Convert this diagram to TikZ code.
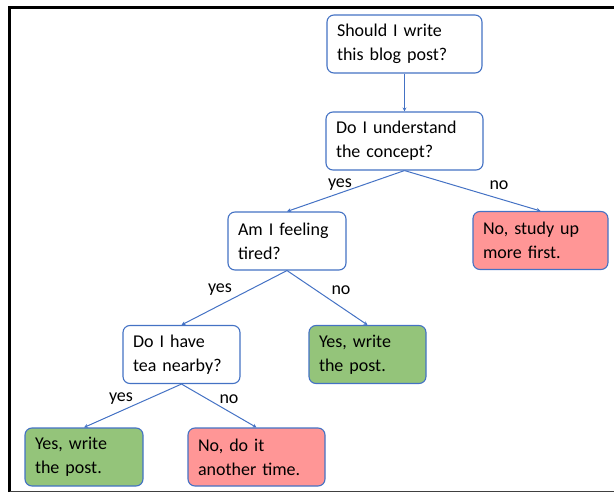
\documentclass[tikz,border=0pt]{standalone}
\usepackage{fontspec}
\setmainfont{Carlito}
\usetikzlibrary{arrows.meta}
\definecolor{boxblue}{RGB}{68,114,196}
\definecolor{yesgreen}{RGB}{148,196,122}
\definecolor{nopink}{RGB}{255,150,150}
\tikzset{
    every node/.style={font=\fontsize{18}{24}\selectfont},
    question/.style={draw=boxblue, line width=1.1pt, rounded corners=7pt,
        fill=white, text width=#1, inner xsep=10pt, align=left,
        minimum height=58pt},
    answeryes/.style={question=#1, fill=yesgreen},
    answerno/.style={question=#1, fill=nopink},
    branch/.style={draw=boxblue, line width=1pt,
        -{Stealth[length=4pt, width=4pt]}},
}
\begin{document}
\begin{tikzpicture}[x=1pt, y=-1pt]
                \useasboundingbox (0, 0) rectangle (614, 493);
                \draw[line width=2.5pt] (9.5, 492) -- (9.5, 7.5) -- (614, 7.5);
                \draw[darkgray, line width=1.5pt] (9.5, 491.5) -- (614, 491.5);
                % questions
                \node[question=135pt] (blog) at (404.5, 44)
                    {Should I write\\ this blog post?};
                \node[question=137pt] (concept) at (404.5, 141)
                    {Do I understand\\ the concept?};
                \node[question=98pt] (tired) at (287, 241)
                    {Am I feeling\\ tired?};
                \node[question=97pt] (tea) at (181.5, 354.5)
                    {Do I have\\ tea nearby?};
                % answers
                \node[answerno=115pt] (study) at (540.5, 240.5)
                    {No, study up\\ more first.};
                \node[answeryes=97pt] (postA) at (367.5, 354.5)
                    {Yes, write\\ the post.};
                \node[answeryes=98pt] (postB) at (84, 457)
                    {Yes, write\\ the post.};
                \node[answerno=117pt] (later) at (256.5, 457)
                    {No, do it\\ another time.};
                \draw[branch] (blog) -- (concept);
                \draw[branch] (concept.south) -- (tired.north);
                \draw[branch] (concept.south) -- (study.north);
                \draw[branch] (tired.south) -- (tea.north);
                \draw[branch] (tired.south) -- (postA.north);
                \draw[branch] (tea.south) -- (postB.north);
                \draw[branch] (tea.south) -- (later.north);
                \node (yesA) at (340, 185) {yes};
                \node (noA) at (499, 185) {no};
                \node (yesB) at (220, 290) {yes};
                \node (noB) at (341, 290) {no};
                \node (yesC) at (121, 399) {yes};
                \node (noC) at (229, 399) {no};
            \end{tikzpicture}
\end{document}
